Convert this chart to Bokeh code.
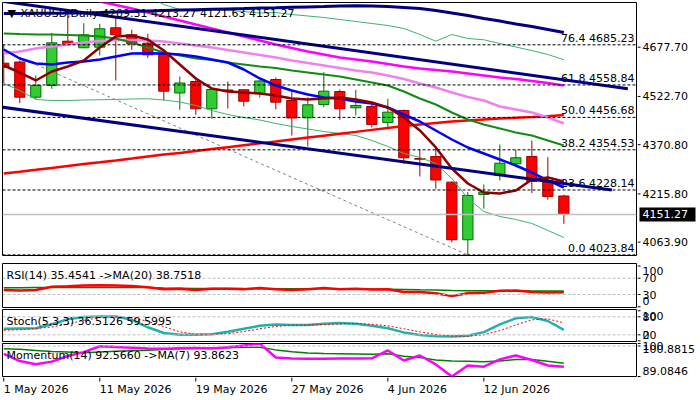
import math
from bokeh.plotting import figure
from bokeh.layouts import column, row
from bokeh.models import Range1d, Label, Span
from bokeh.core.properties import value
from bokeh.embed import file_html
from bokeh.resources import INLINE

FONT = "DejaVu Sans"

# ---- daily bars ----
dates = ["1 May 2026", "4 May 2026", "5 May 2026", "6 May 2026", "7 May 2026", "8 May 2026",
         "11 May 2026", "12 May 2026", "13 May 2026", "14 May 2026", "15 May 2026",
         "18 May 2026", "19 May 2026", "20 May 2026", "21 May 2026", "22 May 2026",
         "25 May 2026", "26 May 2026", "27 May 2026", "28 May 2026", "29 May 2026",
         "1 Jun 2026", "2 Jun 2026", "3 Jun 2026", "4 Jun 2026", "5 Jun 2026",
         "8 Jun 2026", "9 Jun 2026", "10 Jun 2026", "11 Jun 2026", "12 Jun 2026",
         "15 Jun 2026", "16 Jun 2026", "17 Jun 2026", "18 Jun 2026", "19 Jun 2026"]
opens = [4627.3, 4631.1, 4520.3, 4557.1, 4696.6, 4675.8, 4677.7, 4738.8, 4716.7, 4690.3,
         4654.7, 4533.5, 4569.7, 4483.8, 4543.0, 4543.6, 4531.9, 4576.0, 4509.9, 4455.4,
         4497.3, 4538.2, 4486.9, 4491.0, 4440.7, 4478.4, 4327.3, 4333.6, 4252.7, 4071.4,
         4214.0, 4273.8, 4310.6, 4333.6, 4258.1, 4209.31]
highs = [4686.2, 4635.8, 4588.6, 4723.0, 4793.2, 4753.2, 4751.4, 4772.1, 4732.5, 4719.9,
         4657.9, 4585.5, 4581.4, 4546.1, 4569.7, 4546.1, 4576.0, 4582.3, 4539.2, 4520.3,
         4599.0, 4544.5, 4543.6, 4497.3, 4515.3, 4481.6, 4355.7, 4361.0, 4254.9, 4221.2,
         4245.5, 4371.4, 4354.7, 4384.0, 4331.4, 4213.27]
lows = [4563.4, 4501.4, 4513.1, 4546.7, 4684.6, 4675.2, 4651.6, 4572.9, 4669.5, 4644.3,
        4509.9, 4480.6, 4464.9, 4452.3, 4484.7, 4491.0, 4519.4, 4481.6, 4399.7, 4365.1,
        4488.8, 4449.2, 4462.7, 4424.9, 4425.9, 4310.6, 4270.7, 4231.9, 4063.9, 4023.84,
        4169.0, 4258.1, 4299.9, 4218.1, 4197.3, 4121.63]
closes = [4614.7, 4520.3, 4557.1, 4691.5, 4686.2, 4716.7, 4735.6, 4716.7, 4688.4, 4653.8,
          4539.2, 4565.0, 4483.8, 4544.5, 4540.8, 4507.7, 4571.3, 4504.6, 4454.8, 4496.4,
          4539.2, 4483.8, 4494.2, 4434.4, 4473.1, 4329.6, 4325.1, 4259.6, 4071.4, 4210.9,
          4221.2, 4312.5, 4329.6, 4255.0, 4207.7, 4151.27]

# ---- moving averages and bands on the price panel ----
ma_maroon = [4620.1, 4598.0, 4572.9, 4601.2, 4616.9, 4635.8, 4676.7, 4711.4, 4714.5, 4701.9,
             4667.3, 4623.2, 4579.2, 4547.7, 4538.2, 4535.1, 4531.9, 4525.6, 4516.2, 4513.0,
             4516.2, 4519.3, 4513.0, 4503.6, 4487.9, 4456.4, 4415.5, 4362.0, 4295.8, 4248.6,
             4220.3, 4217.1, 4226.6, 4261.3, 4267.5, 4254.9]
ma_blue = [4670.5, 4642.1, 4626.4, 4623.2, 4629.5, 4632.7, 4639.0, 4648.4, 4657.9, 4658.8,
           4657.9, 4654.7, 4648.4, 4639.0, 4629.5, 4607.5, 4579.2, 4557.1, 4541.4, 4528.8,
           4519.3, 4516.2, 4506.8, 4500.5, 4487.9, 4465.8, 4443.8, 4415.5, 4387.1, 4361.9,
           4343.1, 4324.2, 4305.3, 4283.2, 4258.1, 4236.0]
ma_green = [4720.8, 4719.2, 4717.7, 4717.7, 4716.1, 4714.5, 4711.4, 4705.1, 4692.5, 4676.7,
            4661.0, 4651.6, 4642.1, 4637.4, 4629.5, 4623.2, 4616.9, 4612.2, 4604.3, 4598.0,
            4591.7, 4585.4, 4576.0, 4566.6, 4557.1, 4538.2, 4516.2, 4497.3, 4472.1, 4450.1,
            4434.3, 4421.8, 4409.2, 4399.7, 4384.0, 4368.2]
ma_violet = [4657.9, 4664.2, 4673.6, 4679.9, 4686.2, 4692.5, 4697.2, 4700.4, 4700.4, 4698.8,
             4695.6, 4689.3, 4683.0, 4676.7, 4668.9, 4661.0, 4653.1, 4645.3, 4635.8, 4627.9,
             4620.1, 4612.2, 4604.3, 4598.0, 4588.6, 4577.6, 4563.4, 4550.8, 4535.1, 4520.9,
             4509.9, 4491.0, 4481.6, 4472.1, 4456.4, 4437.5]
ma_magenta = [4887.7, 4878.2, 4868.8, 4859.3, 4849.9, 4834.1, 4821.6, 4810.5, 4799.5, 4786.9,
              4774.3, 4761.7, 4749.1, 4736.6, 4724.0, 4711.4, 4698.8, 4686.2, 4675.2, 4664.2,
              4654.7, 4645.3, 4639.0, 4632.7, 4624.8, 4616.9, 4610.6, 4605.9, 4601.2, 4594.9,
              4588.6, 4582.3, 4577.6, 4571.3, 4565.0, 4557.1]
ma_red = [4280.1, 4285.8, 4291.7, 4297.7, 4303.7, 4309.7, 4315.4, 4321.3, 4327.3, 4333.6,
          4339.9, 4344.6, 4350.6, 4356.9, 4362.9, 4368.9, 4374.9, 4380.8, 4387.1, 4393.1,
          4399.1, 4405.1, 4411.1, 4417.4, 4423.3, 4429.3, 4434.4, 4439.1, 4443.8, 4446.9,
          4450.1, 4453.2, 4455.4, 4457.6, 4460.2, 4464.3]
ma_navy = [4783.8, 4784.1, 4784.4, 4784.7, 4785.0, 4785.4, 4786.9, 4788.5, 4790.1, 4791.6,
           4793.2, 4794.5, 4795.7, 4797.0, 4798.3, 4799.5, 4800.8, 4802.0, 4803.3, 4804.6,
           4805.8, 4807.4, 4808.3, 4807.7, 4805.8, 4802.7, 4799.5, 4793.2, 4785.4, 4777.5,
           4768.0, 4760.2, 4750.7, 4742.8, 4733.4, 4724.0]
band_upper = [4878.2, 4897.1, 4922.3, 4925.4, 4922.3, 4919.1, 4909.7, 4897.1, 4868.8, 4837.3,
              4812.1, 4796.4, 4790.1, 4796.4, 4793.2, 4790.1, 4785.4, 4786.9, 4780.6, 4775.9,
              4771.2, 4764.9, 4758.6, 4752.3, 4746.0, 4736.6, 4717.7, 4696.6, 4717.7, 4705.1,
              4701.0, 4689.3, 4678.3, 4667.3, 4654.7, 4638.0]
band_lower = [4563.4, 4541.4, 4513.1, 4509.9, 4509.9, 4511.5, 4512.1, 4513.1, 4514.6, 4515.3,
              4511.5, 4505.2, 4494.2, 4478.4, 4465.8, 4456.4, 4448.5, 4437.5, 4428.1, 4420.2,
              4412.3, 4406.0, 4399.7, 4384.0, 4365.1, 4343.1, 4330.5, 4311.6, 4264.4, 4201.4,
              4160.5, 4144.7, 4135.3, 4122.7, 4100.7, 4078.6]

# ---- drawn objects: channel and Fibonacci retracement ----
channel_upper_bars = [-1, 39]
channel_upper_prices = [4828.6, 4546.7]
channel_lower_bars = [-1, 38]
channel_lower_prices = [4495.1, 4227.8]
fib_anchor_bars = [-10, 29]
fib_anchor_prices = [4889.53, 4023.84]
fib_levels = [0.0, 23.6, 38.2, 50.0, 61.8, 76.4]
fib_prices = [4023.84, 4228.14, 4354.53, 4456.68, 4558.84, 4685.23]
price_ticks = [4063.90, 4215.80, 4370.80, 4522.70, 4677.70]

# ---- oscillators ----
rsi = [41.0, 40.0, 41.0, 49.0, 50.0, 52.0, 53.0, 52.0, 51.0, 48.0, 43.0, 44.0, 41.0, 44.0,
       44.0, 43.0, 46.0, 43.0, 41.0, 43.0, 46.0, 43.0, 44.0, 42.0, 43.0, 36.0, 36.0, 33.0,
       26.0, 33.0, 34.0, 39.0, 40.0, 36.0, 35.0, 35.4541]
rsi_ma = [46.5, 46.8, 47.0, 47.0, 47.2, 47.3, 47.4, 47.4, 47.3, 47.0, 46.0, 45.5, 45.0, 44.8,
          44.7, 44.5, 44.4, 44.3, 44.2, 44.2, 44.1, 44.0, 43.9, 43.7, 43.2, 42.5, 41.5, 40.8,
          40.0, 39.5, 39.2, 39.1, 39.0, 38.9, 38.8, 38.7518]
stoch_k = [40, 41, 42, 55, 72, 79, 81, 81, 70, 45, 26, 20, 20, 22, 30, 40, 50, 54, 53, 53,
           57, 59, 57, 50, 42, 28, 19, 15, 14, 17, 29, 55, 75, 79, 66, 36.5126]
stoch_d = [35, 37, 41, 46, 56, 68, 77, 80, 77, 65, 47, 30, 22, 21, 24, 31, 40, 48, 52, 53,
           54, 56, 58, 55, 50, 40, 30, 21, 16, 15, 20, 34, 53, 70, 73, 59.5995]
momentum = [97.2, 94.6, 93.5, 94.4, 96.4, 97.8, 99.9, 99.6, 99.4, 99.1, 99.0, 99.2, 99.3,
            99.1, 99.5, 100.2, 100.8815, 95.9, 95.5, 95.4, 95.4, 95.5, 95.5, 95.6, 98.4, 94.8,
            96.6, 93.4, 89.0846, 93.0, 92.6, 95.2, 96.6, 95.0, 93.0, 92.566]
momentum_ma = [99.0, 98.8, 98.4, 98.0, 97.8, 97.6, 97.8, 98.1, 98.3, 98.5, 98.7, 99.0, 99.2,
               99.3, 99.4, 99.5, 99.5, 98.6, 97.9, 97.5, 97.3, 97.2, 97.1, 97.0, 97.2, 96.3,
               95.9, 95.0, 94.6, 94.5, 94.4, 94.6, 95.2, 95.2, 94.5, 93.8623]

date_ticks = [0, 6, 12, 18, 24, 30]

idx = list(range(len(opens)))
X0, X1 = -0.08, 39.54
x_range = Range1d(X0, X1)
PANEL_W, SCALE_W, PAGE_H = 637, 63, 400


def blank(p):
    p.xgrid.grid_line_color = None
    p.ygrid.grid_line_color = None
    p.background_fill_color = "white"
    p.border_fill_color = "white"
    return p


def panel(height, y_range, top, bottom):
    p = figure(width=PANEL_W, height=height, x_range=x_range, y_range=y_range,
               output_backend="svg", toolbar_location=None, title=None,
               x_axis_location=None, y_axis_location=None,
               min_border_left=2, min_border_right=1, min_border_top=top,
               min_border_bottom=bottom)
    blank(p)
    p.outline_line_color = "black"
    p.outline_line_width = 1
    return p


def corner_label(p, y, text, x_offset=4, y_offset=-5):
    p.add_layout(Label(x=X0, y=y, x_offset=x_offset, y_offset=y_offset, text=text,
                       text_baseline="top", text_font=FONT, text_font_size="11px",
                       text_color="black"))


# ================= price panel =================
main_y = Range1d(4021.9, 4818.4)
main = panel(259, main_y, 2, 4)

main.add_layout(Span(location=closes[-1], dimension="width", line_color="#C0C0C0",
                     line_width=1.5))

up = [i for i in idx if closes[i] >= opens[i]]
dn = [i for i in idx if closes[i] < opens[i]]
main.segment(x0=up, y0=[highs[i] for i in up], x1=up, y1=[lows[i] for i in up],
             line_color="#006E00", line_width=1)
main.segment(x0=dn, y0=[highs[i] for i in dn], x1=dn, y1=[lows[i] for i in dn],
             line_color="#A00000", line_width=1)
main.vbar(x=up, bottom=[opens[i] for i in up], top=[closes[i] for i in up], width=0.64,
          fill_color="#32CD32", line_color="#006E00", line_width=1)
main.vbar(x=dn, bottom=[closes[i] for i in dn], top=[opens[i] for i in dn], width=0.64,
          fill_color="#FF0000", line_color="#A00000", line_width=1)

# Fibonacci retracement
for pr in fib_prices:
    main.add_layout(Span(location=pr, dimension="width", line_color="black",
                         line_width=1, line_dash="3 2"))
main.line(fib_anchor_bars, fib_anchor_prices, line_color="#808080", line_width=1,
          line_dash="3 3")
main.text(x=[X1 - 0.12] * len(fib_levels), y=fib_prices,
          text=[f"{l:.1f} {p:.2f}" for l, p in zip(fib_levels, fib_prices)],
          text_align="right", text_baseline="bottom", text_font=value(FONT),
          text_font_size="11px", text_color="black")

# bands and averages
main.line(idx, band_upper, line_color="#3CB371", line_width=1)
main.line(idx, band_lower, line_color="#3CB371", line_width=1)
main.line(idx, ma_red, line_color="#FF0000", line_width=2.5)
main.line(idx, ma_magenta, line_color="#FF00FF", line_width=2.5)
main.line(idx, ma_violet, line_color="#EE82EE", line_width=2.5)
main.line(idx, ma_green, line_color="#138A13", line_width=2)
main.line(idx, ma_blue, line_color="#0000FF", line_width=2.5)
main.line(idx, ma_maroon, line_color="#8B0000", line_width=2.5)
main.line(idx, ma_navy, line_color="#000080", line_width=3)

# channel
main.line(channel_upper_bars, channel_upper_prices, line_color="#000080", line_width=3)
main.line(channel_lower_bars, channel_lower_prices, line_color="#000080", line_width=3)

corner_label(main, main_y.end, "\u25BC", x_offset=5, y_offset=-4)
corner_label(main, main_y.end,
             f"XAUUSD,Daily  {opens[-1]:.2f} {highs[-1]:.2f} {lows[-1]:.2f} {closes[-1]:.2f}",
             x_offset=18, y_offset=-4)

# ================= RSI =================
rsi_y = Range1d(-1.9, 106.1)
rsi_p = panel(49, rsi_y, 4, 1)
for lv in (70, 30):
    rsi_p.add_layout(Span(location=lv, dimension="width", line_color="#C0C0C0",
                          line_width=1, line_dash="3 2"))
rsi_p.line(idx, rsi_ma, line_color="#008000", line_width=1.5)
rsi_p.line(idx, rsi, line_color="#FF0000", line_width=2.5)
corner_label(rsi_p, rsi_y.end, f"RSI(14) {rsi[-1]:.4f}  ->MA(20) {rsi_ma[-1]:.4f}")

# ================= Stochastic =================
st_y = Range1d(-2.3, 104.3)
st_p = panel(34, st_y, 1, 1)
for lv in (80, 20):
    st_p.add_layout(Span(location=lv, dimension="width", line_color="#C0C0C0",
                         line_width=1, line_dash="3 2"))
st_p.line(idx, stoch_k, line_color="#20B2AA", line_width=2.5)
st_p.line(idx, stoch_d, line_color="#FF0000", line_width=1, line_dash="2 2")
corner_label(st_p, st_y.end, f"Stoch(5,3,3) {stoch_k[-1]:.4f} {stoch_d[-1]:.4f}")

# ================= Momentum =================
mo_y = Range1d(min(momentum), max(momentum))
mo_p = panel(35, mo_y, 1, 1)
mo_p.add_layout(Span(location=100, dimension="width", line_color="#C0C0C0",
                     line_width=1, line_dash="3 2"))
mo_p.line(idx, momentum_ma, line_color="#008000", line_width=1.5)
mo_p.line(idx, momentum, line_color="#FF00FF", line_width=2.5)
corner_label(mo_p, mo_y.end,
             f"Momentum(14) {momentum[-1]:.4f}  ->MA(7) {momentum_ma[-1]:.4f}")

# ================= date strip =================
strip_h = 23
date_p = figure(width=PANEL_W, height=strip_h, x_range=x_range, y_range=Range1d(0, strip_h),
                output_backend="svg", toolbar_location=None, title=None,
                x_axis_location=None, y_axis_location=None,
                min_border_left=2, min_border_right=1, min_border_top=0, min_border_bottom=0)
blank(date_p)
date_p.outline_line_color = None
date_p.ray(x=date_ticks, y=[strip_h] * len(date_ticks), length=4, length_units="screen",
           angle=-math.pi / 2, line_color="black", line_width=1)
date_p.text(x=date_ticks, y=[strip_h - 5] * len(date_ticks), text=[dates[i] for i in date_ticks],
            text_align="left", text_baseline="top", text_font=value(FONT),
            text_font_size="11px", text_color="black")

# ================= right-hand value scale =================
# One tall strip beside all panels; each panel's range is extended so that it maps
# onto the same rows as the panel frame it labels.
def stretched(rng, top_px, bottom_px):
    per_px = (rng.end - rng.start) / (bottom_px - top_px)
    return Range1d(rng.start - (PAGE_H - bottom_px) * per_px, rng.end + top_px * per_px)


scale_p = figure(width=SCALE_W, height=PAGE_H, x_range=Range1d(0, SCALE_W),
                 y_range=Range1d(0, PAGE_H), output_backend="svg", toolbar_location=None,
                 title=None, x_axis_location=None, y_axis_location=None,
                 min_border_left=0, min_border_right=0, min_border_top=0, min_border_bottom=0)
blank(scale_p)
scale_p.outline_line_color = None
scale_p.extra_y_ranges = {
    "main": stretched(main_y, 2, 255),
    "rsi": stretched(rsi_y, 263, 307),
    "st": stretched(st_y, 309, 341),
    "mo": stretched(mo_y, 343, 376),
}


def scale_labels(name, values, texts, baseline="middle", shift=0, text_color="black"):
    scale_p.ray(x=[0] * len(values), y=values, length=3, length_units="screen", angle=0,
                line_color="black", line_width=1, y_range_name=name)
    scale_p.text(x=[5] * len(values), y=values, text=texts, text_align="left",
                 text_baseline=baseline, y_offset=shift, text_font=value(FONT),
                 text_font_size="11px", text_color=text_color, y_range_name=name)


scale_labels("main", price_ticks, [f"{t:.2f}" for t in price_ticks])
scale_p.rect(x=[30], y=[closes[-1]], width=56, height=14, height_units="screen",
             fill_color="black", line_color=None, y_range_name="main")
scale_p.text(x=[5], y=[closes[-1]], text=[f"{closes[-1]:.2f}"], text_align="left",
             text_baseline="middle", text_font=value(FONT), text_font_size="11px",
             text_color="white", y_range_name="main")

scale_labels("rsi", [100], ["100"], "top", 1)
scale_labels("rsi", [70, 30], ["70", "30"])
scale_labels("rsi", [0], ["0"], "bottom", -2)

scale_labels("st", [100], ["100"], "top", 1)
scale_labels("st", [80, 20], ["80", "20"])
scale_labels("st", [0], ["0"], "bottom", -2)

scale_labels("mo", [100], ["100"])
scale_labels("mo", [mo_y.end], [f"{mo_y.end:.4f}"], "top", 1)
scale_labels("mo", [mo_y.start], [f"{mo_y.start:.4f}"], "bottom", -2)

left = column(main, rsi_p, st_p, mo_p, date_p, spacing=0)
layout = row(left, scale_p, spacing=0)
open("out.html", "w").write(file_html(layout, INLINE))
